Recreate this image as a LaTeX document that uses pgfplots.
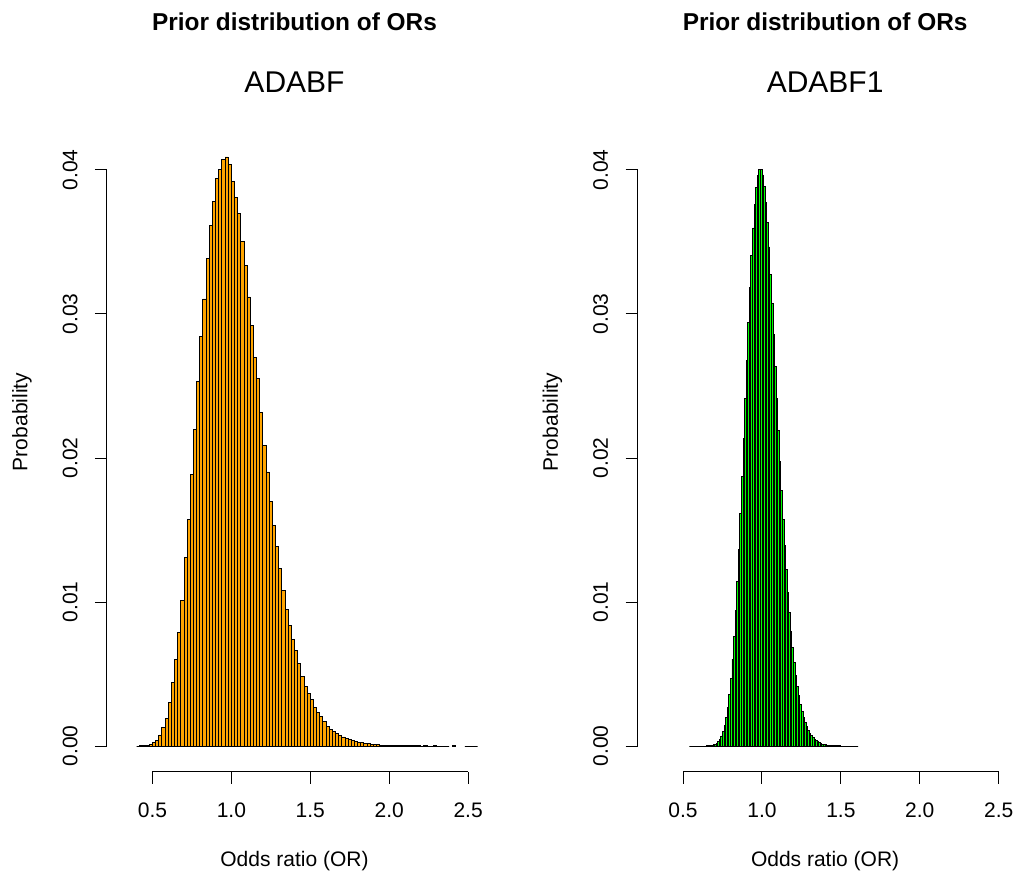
\documentclass[border=0pt]{standalone}
\usepackage{fontspec}
\setmainfont{Liberation Sans}
\usepackage{pgfplots}
\usepackage{pgfplotstable}
\pgfplotsset{compat=1.18}
\definecolor{rorange}{RGB}{255,165,0}
\definecolor{rgreen}{RGB}{0,255,0}

% ADABF: bin left edge, probability (bin width 0.02)
\pgfplotstableread{
x y
0.40 0.00000
0.42 0.00001
0.44 0.00003
0.46 0.00007
0.48 0.00012
0.50 0.00027
0.52 0.00042
0.54 0.00077
0.56 0.00127
0.58 0.00193
0.60 0.00303
0.62 0.00441
0.64 0.00600
0.66 0.00790
0.68 0.01013
0.70 0.01308
0.72 0.01575
0.74 0.01886
0.76 0.02195
0.78 0.02528
0.80 0.02842
0.82 0.03104
0.84 0.03382
0.86 0.03616
0.88 0.03781
0.90 0.03938
0.92 0.04004
0.94 0.04070
0.96 0.04090
0.98 0.04035
1.00 0.03922
1.02 0.03809
1.04 0.03696
1.06 0.03503
1.08 0.03335
1.10 0.03118
1.12 0.02917
1.14 0.02696
1.16 0.02550
1.18 0.02313
1.20 0.02088
1.22 0.01903
1.24 0.01699
1.26 0.01531
1.28 0.01388
1.30 0.01231
1.32 0.01081
1.34 0.00947
1.36 0.00836
1.38 0.00741
1.40 0.00662
1.42 0.00572
1.44 0.00481
1.46 0.00414
1.48 0.00363
1.50 0.00322
1.52 0.00271
1.54 0.00234
1.56 0.00206
1.58 0.00169
1.60 0.00134
1.62 0.00116
1.64 0.00102
1.66 0.00088
1.68 0.00076
1.70 0.00063
1.72 0.00052
1.74 0.00046
1.76 0.00038
1.78 0.00032
1.80 0.00027
1.82 0.00022
1.84 0.00019
1.86 0.00016
1.88 0.00013
1.90 0.00011
1.92 0.00009
1.94 0.00007
1.96 0.00006
1.98 0.00005
2.00 0.00004
2.02 0.00003
2.04 0.00003
2.06 0.00002
2.08 0.00002
2.10 0.00002
2.12 0.00001
2.14 0.00001
2.16 0.00001
2.18 0.00001
2.20 0.00000
2.22 0.00001
2.24 0.00000
2.26 0.00000
2.28 0.00001
2.30 0.00000
2.32 0.00000
2.34 0.00000
2.36 0.00000
2.38 0.00000
}\leftdata

\pgfplotstableread{
x y
2.40 0.00002
2.42 0.00000
}\leftdatab

\pgfplotstableread{
x y
2.48 0.00000
2.50 0.00000
2.52 0.00000
2.54 0.00000
2.56 0.00000
}\leftdatac

% ADABF1: bin left edge, probability (bin width 0.01)
\pgfplotstableread{
x y
0.54 0.00000
0.55 0.00000
0.56 0.00000
0.57 0.00000
0.58 0.00000
0.59 0.00000
0.60 0.00000
0.61 0.00000
0.62 0.00000
0.63 0.00000
0.64 0.00000
0.65 0.00001
0.66 0.00001
0.67 0.00003
0.68 0.00005
0.69 0.00008
0.70 0.00013
0.71 0.00020
0.72 0.00031
0.73 0.00047
0.74 0.00070
0.75 0.00102
0.76 0.00144
0.77 0.00200
0.78 0.00271
0.79 0.00361
0.80 0.00472
0.81 0.00604
0.82 0.00760
0.83 0.00941
0.84 0.01143
0.85 0.01367
0.86 0.01612
0.87 0.01870
0.88 0.02137
0.89 0.02410
0.90 0.02679
0.91 0.02940
0.92 0.03182
0.93 0.03405
0.94 0.03597
0.95 0.03758
0.96 0.03880
0.97 0.03963
0.98 0.04005
0.99 0.04004
1.00 0.03965
1.01 0.03887
1.02 0.03775
1.03 0.03633
1.04 0.03465
1.05 0.03277
1.06 0.03072
1.07 0.02857
1.08 0.02636
1.09 0.02414
1.10 0.02193
1.11 0.01979
1.12 0.01772
1.13 0.01576
1.14 0.01393
1.15 0.01223
1.16 0.01067
1.17 0.00925
1.18 0.00797
1.19 0.00683
1.20 0.00582
1.21 0.00493
1.22 0.00416
1.23 0.00348
1.24 0.00290
1.25 0.00241
1.26 0.00199
1.27 0.00164
1.28 0.00134
1.29 0.00109
1.30 0.00088
1.31 0.00071
1.32 0.00057
1.33 0.00046
1.34 0.00037
1.35 0.00029
1.36 0.00023
1.37 0.00018
1.38 0.00014
1.39 0.00011
1.40 0.00009
1.41 0.00007
1.42 0.00005
1.43 0.00004
1.44 0.00003
1.45 0.00002
1.46 0.00002
1.47 0.00001
1.48 0.00001
1.49 0.00001
1.50 0.00000
1.51 0.00000
1.52 0.00000
1.53 0.00000
1.54 0.00000
1.55 0.00000
1.56 0.00000
1.57 0.00000
1.58 0.00000
1.59 0.00000
1.60 0.00000
1.61 0.00000
}\rightdata

\pgfplotsset{
  rstyle/.style={
    width=281.25pt, height=525pt, scale only axis,
    xmin=0.212, xmax=2.588, ymin=-0.0018, ymax=0.0468,
    axis x line*=bottom, axis y line*=left,
    axis line style={draw=none},
    clip=false,
    xtick={0.5,1,1.5,2,2.5},
    ytick={0,0.01,0.02,0.03,0.04},
    scaled x ticks=false, scaled y ticks=false,
    minor tick num=0,
    tick align=outside, major tick length=9pt,
    tick style={black, line width=0.75pt},
    /pgf/number format/assume math mode=true,
    xticklabel style={/pgf/number format/.cd, fixed, fixed zerofill, precision=1, /tikz/.cd,
      font=\fontsize{15.75}{18}\selectfont, anchor=base, yshift=-25.5pt},
    yticklabel style={/pgf/number format/.cd, fixed, fixed zerofill, precision=2, /tikz/.cd,
      font=\fontsize{15.75}{18}\selectfont, xshift=-13.3pt, rotate=90, anchor=base},
    xlabel={Odds ratio (OR)},
    ylabel={Probability},
    xlabel style={font=\fontsize{15.75}{18}\selectfont, at={(axis description cs:0.5,-0.1357)}, anchor=base},
    ylabel style={font=\fontsize{15.75}{18}\selectfont, at={(axis description cs:-0.2125,0.5)}, rotate=0, anchor=base},
  }
}

\begin{document}
\begin{tikzpicture}
\path[use as bounding box] (0,0) rectangle (761.25pt,655.5pt);

\begin{axis}[rstyle, at={(80.25pt,76.5pt)}, anchor=south west]
  \addplot[ybar interval, fill=rorange, draw=black, line width=0.7pt] table[x=x,y=y] {\leftdata};
  \addplot[ybar interval, fill=rorange, draw=black, line width=0.7pt] table[x=x,y=y] {\leftdatab};
  \addplot[ybar interval, fill=rorange, draw=black, line width=0.7pt] table[x=x,y=y] {\leftdatac};
  \draw[black, line width=0.75pt] (axis cs:0.5,-0.0018) -- (axis cs:2.5,-0.0018);
  \draw[black, line width=0.75pt] (axis cs:0.212,0) -- (axis cs:0.212,0.04);
  \node[anchor=base, font=\bfseries\fontsize{18.3}{22}\selectfont] at (axis description cs:0.5,1.0586) {Prior distribution of ORs};
  \node[anchor=base, font=\fontsize{22.5}{27}\selectfont] at (axis description cs:0.5,0.970) {ADABF};
\end{axis}

\begin{axis}[rstyle, at={(478.2pt,76.5pt)}, anchor=south west]
  \addplot[ybar interval, fill=rgreen, draw=black, line width=0.7pt] table[x=x,y=y] {\rightdata};
  \draw[black, line width=0.75pt] (axis cs:0.5,-0.0018) -- (axis cs:2.5,-0.0018);
  \draw[black, line width=0.75pt] (axis cs:0.212,0) -- (axis cs:0.212,0.04);
  \node[anchor=base, font=\bfseries\fontsize{18.3}{22}\selectfont] at (axis description cs:0.5,1.0586) {Prior distribution of ORs};
  \node[anchor=base, font=\fontsize{22.5}{27}\selectfont] at (axis description cs:0.5,0.970) {ADABF1};
\end{axis}
\end{tikzpicture}
\end{document}
